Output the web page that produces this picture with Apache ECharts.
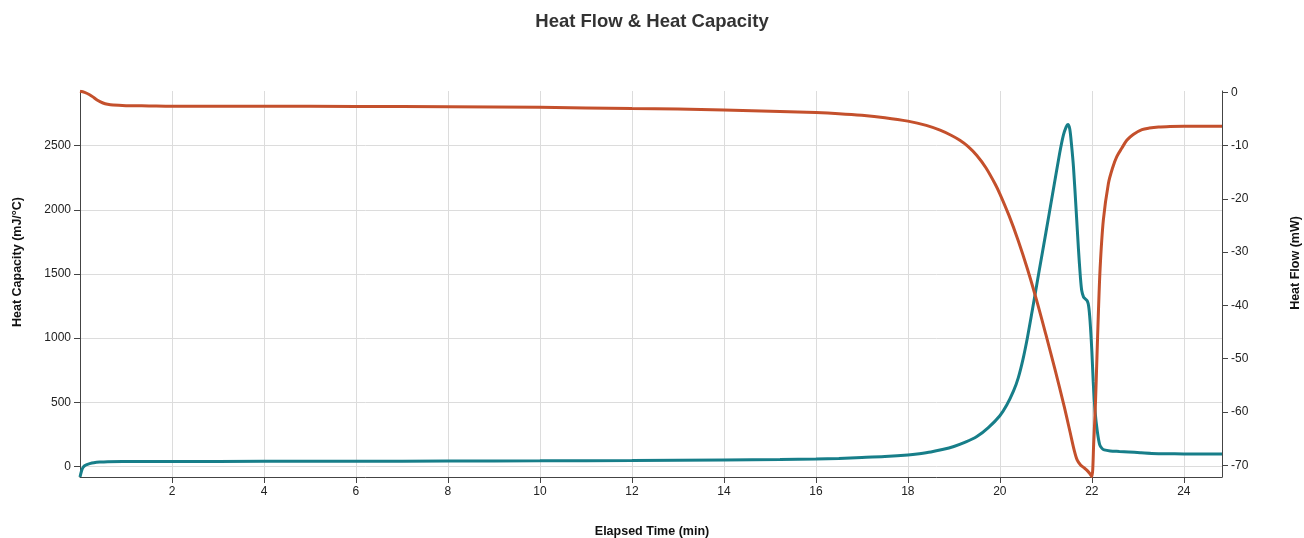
<!DOCTYPE html>
<html><head><meta charset="utf-8">
<script src="https://cdn.jsdelivr.net/npm/echarts@6/dist/echarts.min.js"></script>
<style>html,body{margin:0;padding:0;background:#fff}#c{width:1304px;height:538px}</style>
</head><body><div id="c"></div>
<script>
// Heat Capacity (mJ/°C) — left axis
const hcTime = [0.0, 0.03, 0.06, 0.1, 0.15, 0.21, 0.3, 0.43, 0.6, 1.0, 2, 4, 6, 8, 10, 12, 14, 15.22, 16, 16.5, 17, 17.5, 18, 18.25, 18.5, 18.75, 19.0, 19.25, 19.5, 19.75, 20.0, 20.15, 20.3, 20.4, 20.5, 20.6, 20.7, 20.85, 21.0, 21.15, 21.3, 21.38, 21.44, 21.48, 21.52, 21.56, 21.6, 21.66, 21.71, 21.75, 21.78, 21.82, 21.86, 21.9, 21.93, 21.96, 22.0, 22.03, 22.07, 22.12, 22.17, 22.22, 22.27, 22.4, 22.6, 22.8, 23.05, 23.3, 23.6, 24.0, 24.4, 24.83];
const hcValues = [-83, -40, -12, 5, 14, 21, 28, 33, 36, 37, 38, 39, 40, 41, 43, 46, 50, 53, 57, 62, 69, 77, 89, 99, 112, 131, 155, 188, 232, 302, 395, 478, 590, 690, 830, 1005, 1205, 1515, 1820, 2130, 2440, 2580, 2645, 2665, 2630, 2500, 2336, 1990, 1688, 1480, 1370, 1320, 1305, 1290, 1250, 1140, 900, 660, 430, 270, 170, 140, 128, 120, 116, 112, 106, 101, 98, 97, 96, 96];
// Heat Flow (mW) — right axis
const hfTime = [0.0, 0.1, 0.2, 0.28, 0.38, 0.5, 0.6, 0.72, 1.0, 1.5, 2, 4, 6, 8, 10, 12, 13, 14, 15.22, 16, 16.5, 17, 17.5, 18, 18.4, 18.7, 18.95, 19.13, 19.3, 19.5, 19.7, 19.9, 20.0, 20.2, 20.4, 20.6, 20.8, 21.0, 21.2, 21.4, 21.53, 21.62, 21.68, 21.75, 21.82, 21.89, 21.95, 22.0, 22.04, 22.08, 22.11, 22.14, 22.18, 22.25, 22.36, 22.45, 22.54, 22.65, 22.76, 22.9, 23.09, 23.25, 23.45, 23.7, 24.0, 24.4, 24.83];
const hfValues = [0.2, 0.0, -0.4, -0.85, -1.5, -2.0, -2.25, -2.4, -2.5, -2.55, -2.6, -2.6, -2.65, -2.7, -2.8, -3.05, -3.15, -3.3, -3.6, -3.8, -4.0, -4.3, -4.75, -5.4, -6.2, -7.1, -8.1, -9.0, -10.1, -11.85, -14.2, -17.25, -19.05, -23.15, -27.85, -33.15, -39.05, -45.45, -52.05, -59.0, -63.9, -67.3, -69.0, -69.9, -70.4, -70.9, -71.5, -72.1, -66, -58, -50, -42, -33, -24, -17.1, -14.2, -12.1, -10.5, -9.0, -7.9, -7.0, -6.7, -6.5, -6.4, -6.35, -6.35, -6.35];

const xRange = [0, 24.83];
const hcRange = [-83, 2926];
const hfRange = [-72.2, 0.25];

const FONT = '"Liberation Sans", Arial, Helvetica, sans-serif';
const axisColor = '#444';
const labelStyle = {fontFamily: FONT, fontSize: 12, color: '#222'};
const plain = v => String(v);

const hcData = hcTime.map((t, i) => [t, hcValues[i]]);
const hfData = hfTime.map((t, i) => [t, hfValues[i]]);

const chart = echarts.init(document.getElementById('c'), null, {renderer: 'canvas'});
chart.setOption({
  animation: false,
  backgroundColor: '#fff',
  title: {
    text: 'Heat Flow & Heat Capacity',
    left: 'center', top: 12, padding: 0,
    textStyle: {fontFamily: FONT, fontSize: 18.5, fontWeight: 'bold', color: '#333'}
  },
  grid: {left: 80, right: 82, top: 91, bottom: 61, containLabel: false},
  xAxis: {
    type: 'value', min: xRange[0], max: xRange[1], interval: 2,
    axisLine: {show: true, onZero: false, lineStyle: {color: axisColor, width: 1}},
    axisTick: {show: true, length: 6, lineStyle: {color: axisColor}},
    axisLabel: Object.assign({margin: 9, showMinLabel: false, showMaxLabel: false, formatter: plain}, labelStyle),
    splitLine: {show: true, showMinLine: false, showMaxLine: false, lineStyle: {color: '#dcdcdc', width: 1}}
  },
  yAxis: [{
    type: 'value', position: 'left', min: hcRange[0], max: hcRange[1], splitNumber: 5,
    axisLine: {show: true, onZero: false, lineStyle: {color: axisColor, width: 1}},
    axisTick: {show: true, length: 6, lineStyle: {color: axisColor}},
    axisLabel: Object.assign({margin: 9, showMinLabel: false, showMaxLabel: false, formatter: plain}, labelStyle),
    splitLine: {show: true, showMinLine: false, showMaxLine: false, lineStyle: {color: '#dcdcdc', width: 1}}
  }, {
    type: 'value', position: 'right', min: hfRange[0], max: hfRange[1], splitNumber: 5,
    axisLine: {show: true, onZero: false, lineStyle: {color: axisColor, width: 1}},
    axisTick: {show: true, length: 6, lineStyle: {color: axisColor}},
    axisLabel: Object.assign({margin: 9, showMinLabel: false, showMaxLabel: false, formatter: plain}, labelStyle),
    splitLine: {show: false}
  }],
  graphic: [
    {type: 'text', x: 18, y: 262, rotation: Math.PI / 2,
     style: {text: 'Heat Capacity (mJ/°C)', x: 0, y: 0, align: 'center', verticalAlign: 'middle', font: 'bold 12.5px ' + FONT, fill: '#111'}},
    {type: 'text', x: 1296, y: 263, rotation: Math.PI / 2,
     style: {text: 'Heat Flow (mW)', x: 0, y: 0, align: 'center', verticalAlign: 'middle', font: 'bold 12.5px ' + FONT, fill: '#111'}},
    {type: 'text', x: 652, y: 532,
     style: {text: 'Elapsed Time (min)', x: 0, y: 0, align: 'center', verticalAlign: 'middle', font: 'bold 12.5px ' + FONT, fill: '#111'}}
  ],
  series: [{
    name: 'Heat Capacity', type: 'line', yAxisIndex: 0, data: hcData,
    showSymbol: false, smooth: 0.3, lineStyle: {color: '#177E89', width: 3}, itemStyle: {color: '#177E89'}
  }, {
    name: 'Heat Flow', type: 'line', yAxisIndex: 1, data: hfData,
    showSymbol: false, smooth: 0.3, lineStyle: {color: '#C4502C', width: 3}, itemStyle: {color: '#C4502C'}
  }]
});
</script>
</body></html>
